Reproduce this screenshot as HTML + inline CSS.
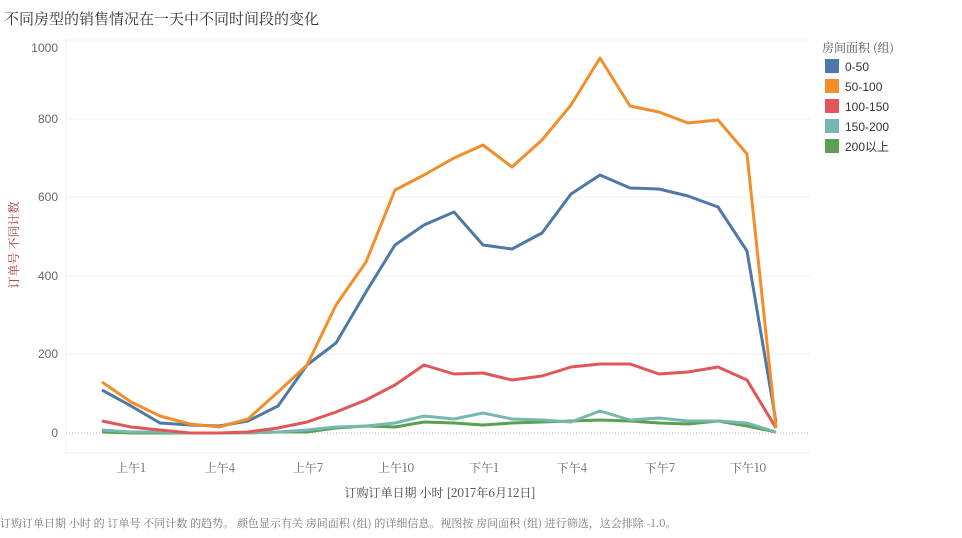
<!DOCTYPE html>
<html><head><meta charset="utf-8"><style>
body{margin:0;background:#fff;font-family:"Liberation Sans","Noto Sans CJK SC",sans-serif;}
</style></head><body>
<svg width="962" height="533" xmlns="http://www.w3.org/2000/svg" font-family="Liberation Sans, Noto Sans CJK SC, sans-serif">
<text x="4" y="24" font-size="15" fill="#333" font-family="Noto Serif CJK SC, serif">不同房型的销售情况在一天中不同时间段的变化</text>
<g stroke="#f0f0f0" stroke-width="1">
<line x1="66" y1="40" x2="66" y2="453"/>
<line x1="66" y1="453" x2="810" y2="453"/>
<line x1="66" y1="40" x2="810" y2="40"/>
<line x1="66" y1="119" x2="810" y2="119"/>
<line x1="66" y1="197" x2="810" y2="197"/>
<line x1="66" y1="276" x2="810" y2="276"/>
<line x1="66" y1="354" x2="810" y2="354"/>
</g>
<line x1="66" y1="433" x2="810" y2="433" stroke="#bbb" stroke-dasharray="1,2"/>
<g font-size="12" fill="#666" text-anchor="end">
<text x="58" y="52">1000</text><text x="58" y="123">800</text><text x="58" y="201">600</text><text x="58" y="280">400</text><text x="58" y="358">200</text><text x="58" y="437">0</text>
</g>
<text transform="translate(18,245) rotate(-90)" font-size="12" fill="#a33" text-anchor="middle" font-family="Noto Serif CJK SC, serif">订单号 不同计数</text>
<g font-size="12" fill="#666" text-anchor="middle" font-family="Noto Serif CJK SC, serif">
<text x="131" y="472">上午1</text><text x="220" y="472">上午4</text><text x="308" y="472">上午7</text><text x="396" y="472">上午10</text><text x="484" y="472">下午1</text><text x="572" y="472">下午4</text><text x="660" y="472">下午7</text><text x="748" y="472">下午10</text>
<text x="440" y="497" fill="#444">订购订单日期 小时 [2017年6月12日]</text>
</g>
<text x="0" y="527" font-size="11" fill="#777" font-family="Noto Serif CJK SC, serif">订购订单日期 小时 的 订单号 不同计数 的趋势。 颜色显示有关 房间面积 (组) 的详细信息。视图按 房间面积 (组) 进行筛选，这会排除 -1.0。</text>
<g fill="none" stroke-width="3" stroke-linejoin="round">
<polyline stroke="#59a14f" points="102,432 131,433 160,433 190,433 219,433 248,433 278,432 307,432 336,428 366,426 395,427 424,422 454,423 483,425 512,423 542,422 571,421 600,420 630,421 659,423 688,424 718,421 747,426 776,432"/>
<polyline stroke="#76b7b2" points="102,430 131,432 160,432 190,433 219,433 248,433 278,432 307,430 336,427 366,426 395,423 424,416 454,419 483,413 512,419 542,420 571,422 600,411 630,420 659,418 688,421 718,421 747,423 776,432"/>
<polyline stroke="#e15759" points="102,421 131,427 160,430 190,433 219,433 248,432 278,428 307,422 336,412 366,400 395,385 424,365 454,374 483,373 512,380 542,376 571,367 600,364 630,364 659,374 688,372 718,367 747,380 776,428"/>
<polyline stroke="#4e79a7" points="102,390 131,406 160,423 190,425 219,426 248,421 278,406 307,365 336,343 366,292 395,245 424,225 454,212 483,245 512,249 542,233 571,194 600,175 630,188 659,189 688,196 718,207 747,251 776,422"/>
<polyline stroke="#f28e2b" points="102,382 131,402 160,416 190,424 219,427 248,419 278,392 307,365 336,305 366,262 395,190 424,175 454,158 483,145 512,167 542,140 571,105 600,58 630,106 659,112 688,123 718,120 747,154 776,428"/>
</g>
<text x="822" y="52" font-size="12" fill="#555" font-family="Noto Serif CJK SC, serif">房间面积 (组)</text>
<g font-size="12" fill="#333">
<rect x="825" y="59" width="14" height="14" fill="#4e79a7"/><text x="845" y="71">0-50</text>
<rect x="825" y="79" width="14" height="14" fill="#f28e2b"/><text x="845" y="91">50-100</text>
<rect x="825" y="99" width="14" height="14" fill="#e15759"/><text x="845" y="111">100-150</text>
<rect x="825" y="119" width="14" height="14" fill="#76b7b2"/><text x="845" y="131">150-200</text>
<rect x="825" y="139" width="14" height="14" fill="#59a14f"/><text x="845" y="151">200以上</text>
</g>
</svg>
</body></html>
